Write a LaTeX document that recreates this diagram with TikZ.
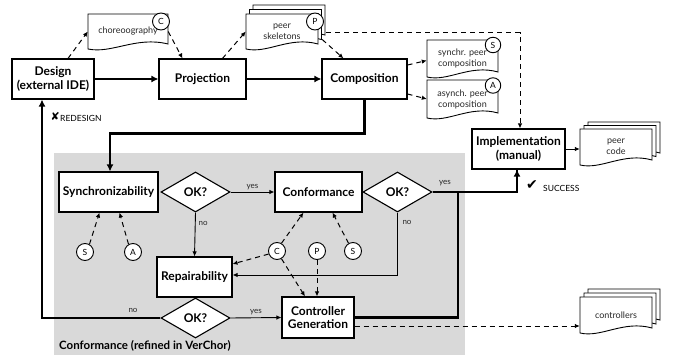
\documentclass[tikz,border=0pt]{standalone}
\usepackage{fontspec}
\setmainfont{Lato}
\newfontfamily\symfont{DejaVu Sans}
\usetikzlibrary{shapes.geometric,arrows.meta,calc}
\definecolor{bggray}{RGB}{217,217,217}
\definecolor{txtgray}{RGB}{40,40,40}
\newcommand\docoutline[4]{%
  \filldraw[docline] ({#1-0.5*#3},{#2-0.5*#4}) -- ({#1+0.5*#3},{#2-0.5*#4}) -- ({#1+0.5*#3},{#2+0.5*#4-5})
    .. controls ({#1+0.1*#3},{#2+0.5*#4-13}) and ({#1-0.2*#3},{#2+0.5*#4+5}) .. ({#1-0.5*#3},{#2+0.5*#4}) -- cycle;}
\begin{document}
\begin{tikzpicture}[x=1pt,y=-1pt,
  box/.style={draw, line width=1.1pt, fill=white, font=\bfseries\fontsize{12}{13.5}\selectfont, align=center, inner sep=0pt},
  okbox/.style={draw, line width=1.1pt, fill=white, diamond, minimum width=69pt, minimum height=40pt, inner sep=0pt, font=\bfseries\fontsize{12}{12}\selectfont},
  docline/.style={draw, line width=0.9pt, fill=white},
  doctext/.style={inner sep=0pt, align=center, font=\fontsize{9}{11}\selectfont, text=txtgray},
  lbl/.style={draw, circle, line width=0.9pt, fill=white, minimum size=17pt, inner sep=0pt, font=\fontsize{8.5}{9}\selectfont},
  dasharrow/.style={line width=1pt, dash pattern=on 5pt off 4pt, -{Latex[length=5pt,width=4.5pt]}},
  thinarrow/.style={line width=0.9pt, -{Latex[length=5pt,width=4.5pt]}},
  thickarrow/.style={line width=2.4pt, -{Latex[length=7pt,width=7pt]}},
  thickline/.style={line width=2.4pt},
  edgelbl/.style={font=\fontsize{8}{8}\selectfont, text=txtgray, inner sep=1pt}
]
\useasboundingbox (0,0) rectangle (675,358);
\fill[bggray] (54,153) rectangle (465,355);

% top boxes
\node[box, minimum width=82pt, minimum height=40pt] (design) at (53,79) {Design\\(external IDE)};
\node[box, minimum width=87pt, minimum height=40pt] (proj) at (202.5,79) {Projection};
\node[box, minimum width=85pt, minimum height=40pt] (comp) at (364.5,79) {Composition};
\node[box, minimum width=93pt, minimum height=40pt] (impl) at (518.5,149) {Implementation\\(manual)};

% documents
\docoutline{128}{31.5}{80}{35}
\node[doctext, minimum width=80pt, minimum height=35pt] (chor) at (128,31.5) {choreoography};
\node[lbl] (cdoc) at (161,21.5) {C};

\docoutline{289}{22.5}{72}{35}
\docoutline{285.5}{27}{72}{35}
\docoutline{282}{31.5}{72}{35}
\node[doctext, minimum width=72pt, minimum height=35pt] (skel) at (282,31.5) {peer\\skeletons};
\node[lbl] (pdoc) at (315,21.5) {P};

\docoutline{462.5}{58.5}{71}{37}
\node[doctext, minimum width=71pt, minimum height=37pt] (sync) at (462.5,58.5) {synchr. peer\\composition};
\node[lbl, minimum size=15.5pt] (sdoc) at (493,45) {S};

\docoutline{462.5}{99}{71}{38}
\node[doctext, minimum width=71pt, minimum height=38pt] (async) at (462.5,99) {asynch. peer\\composition};
\node[lbl, minimum size=15.5pt] (adoc) at (493,85.5) {A};

\docoutline{624}{140}{72}{36}
\docoutline{620}{143.5}{72}{36}
\docoutline{616}{147}{72}{36}
\node[doctext, minimum width=72pt, minimum height=36pt] (pcode) at (616,147) {peer\\code};

\docoutline{624}{307}{72}{36}
\docoutline{620}{311}{72}{36}
\docoutline{616}{315}{72}{36}
\node[doctext, minimum width=72pt, minimum height=36pt] (ctrl) at (616,315) {controllers};

% inner boxes
\node[box, minimum width=99pt, minimum height=40pt] (synch) at (108.5,192) {Synchronizability};
\node[okbox] (ok1) at (195.5,192) {OK?};
\node[box, minimum width=87pt, minimum height=40pt] (conf) at (318.5,192) {Conformance};
\node[okbox] (ok2) at (397.5,192) {OK?};
\node[box, minimum width=75pt, minimum height=40pt] (rep) at (194.5,277) {Repairability};
\node[okbox] (ok3) at (195.5,318) {OK?};
\node[box, minimum width=72pt, minimum height=41pt] (cg) at (318,317.5) {Controller\\Generation};

\node[lbl] (s1) at (85,252) {S};
\node[lbl] (a1) at (133,252) {A};
\node[lbl] (c2) at (277,251) {C};
\node[lbl] (p2) at (317,251) {P};
\node[lbl] (s2) at (353,251) {S};

\coordinate (join) at (458,192);

% top connectors
\draw[dasharrow] ([xshift=15pt]design.north) -- (chor.west);
\draw[dasharrow] (chor.east) -- ([xshift=-20pt]proj.north);
\draw[dasharrow] ([xshift=20pt]proj.north) -- (skel.west);
\draw[dasharrow] ([xshift=4pt,yshift=-8pt]skel.east) -- ([xshift=-21pt]comp.north);
\draw[dasharrow] ([xshift=8pt,yshift=-1.5pt]skel.east) -| ([xshift=1.5pt]impl.north);
\draw[dasharrow] ([yshift=14pt]comp.east) -- ([yshift=-2pt]sync.west);
\draw[dasharrow] ([yshift=-15pt]comp.east) -- (async.west);
\draw[thickarrow] (design.east) -- (proj.west);
\draw[thickarrow] (proj.east) -- (comp.west);
\draw[thickarrow] (comp.south) -- ++(0,34) -| ([xshift=1.5pt]synch.north);
\draw[thinarrow] (impl.east) -- (impl.east -| pcode.west);

% inner connectors
\draw[thinarrow] (ok1.east) -- node[edgelbl, above=1pt] {yes} (conf.west);
\draw[thinarrow] (ok1.south) -- node[edgelbl, right=2pt, pos=0.25] {no} (rep.north);
\draw[thinarrow] (ok2.south) |- ([yshift=2pt]rep.east);
\node[edgelbl] at (407,222) {no};
\draw[thickline] (ok2.east) -| ([xshift=-1.5pt]impl.south);
\draw[thickarrow] (join) -| ([xshift=-1.5pt]impl.south);
\node[edgelbl] at (445,183) {yes};
\draw[thickline] (cg.east) -| (join);
\draw[dasharrow] ([yshift=-8.5pt]cg.east) -- ([yshift=-8.5pt]cg.east -| ctrl.west);
\draw[thinarrow] (ok3.east) -- node[edgelbl, above=1pt] {yes} (cg.west);
\draw[thickarrow] (ok3.west) -| ([xshift=-11pt]design.south);
\node[edgelbl] at (133,310) {no};

\draw[dasharrow] (s1.60) -- ([xshift=-9pt]synch.south);
\draw[dasharrow] (a1.120) -- ([xshift=11pt]synch.south);
\draw[dasharrow] (c2.60) -- ([xshift=-15pt]conf.south);
\draw[dasharrow] (s2.120) -- ([xshift=14pt]conf.south);
\draw[dasharrow] (c2.200) -- ([yshift=13pt]rep.east);
\draw[dasharrow] (c2.-60) -- ([xshift=-13pt]cg.north);
\draw[dasharrow] (p2.south) -- (p2.south |- cg.north);

% annotations
\node[inner sep=0pt, anchor=west] (xmark) at (50.5,116.5) {\symfont\fontsize{11}{11}\selectfont ✘};
\node[inner sep=0pt, anchor=west, font=\fontsize{8.5}{9}\selectfont] (redesign) at (60,118) {REDESIGN};
\node[inner sep=0pt, anchor=west] (vmark) at (526,185.5) {\symfont\fontsize{14}{14}\selectfont ✔};
\node[inner sep=0pt, anchor=west, font=\fontsize{8.5}{9}\selectfont] (success) at (543,188.5) {SUCCESS};
\node[inner sep=0pt, anchor=west, font=\bfseries\fontsize{11.5}{12}\selectfont] (title) at (59,346) {Conformance (refined in VerChor)};
\end{tikzpicture}
\end{document}
